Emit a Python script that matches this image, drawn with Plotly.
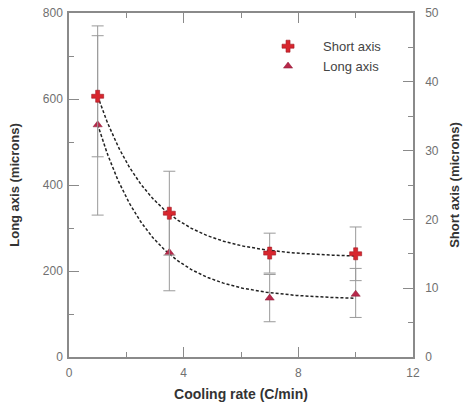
import numpy as np
import plotly.graph_objects as go

# ---- data ----
cooling_rate = [1, 3.5, 7, 10]
short_axis = [37.9, 20.9, 15.1, 15.0]          # microns, right axis
short_err = [8.8, 6.1, 2.9, 3.9]
long_axis = [540, 243, 137, 146]              # microns, left axis
long_err_plus = [230, 89, 55, 60]
long_err_minus = [210, 89, 55, 54]

x_ticks = [0, 4, 8, 12]
left_ticks = [0, 200, 400, 600, 800]
right_ticks = [0, 10, 20, 30, 40, 50]


# ---- fitted trend curves: y = a + b*exp(-c*x), least squares on the data ----
def exp_fit(x, y):
    x = np.asarray(x, float)
    y = np.asarray(y, float)
    best = None
    for c in np.linspace(0.05, 2.0, 400):
        A = np.column_stack([np.ones_like(x), np.exp(-c * x)])
        coef, *_ = np.linalg.lstsq(A, y, rcond=None)
        err = np.sum((A @ coef - y) ** 2)
        if best is None or err < best[0]:
            best = (err, c, coef)
    _, c, (a, b) = best
    return lambda t: a + b * np.exp(-c * t)


xf = np.linspace(min(cooling_rate), max(cooling_rate), 200)
short_fit = exp_fit(cooling_rate, short_axis)(xf)
long_fit = exp_fit(cooling_rate, long_axis)(xf)

FONT = "Liberation Sans, Arial, sans-serif"
GRID = "#8a8a8a"
TICKC = "#707070"

fig = go.Figure()

fig.add_trace(go.Scatter(x=xf, y=short_fit, mode="lines", yaxis="y2",
                         line=dict(color="#222", width=1.5, dash="3px,2px"),
                         showlegend=False, hoverinfo="skip"))
fig.add_trace(go.Scatter(x=xf, y=long_fit, mode="lines",
                         line=dict(color="#222", width=1.5, dash="3px,2px"),
                         showlegend=False, hoverinfo="skip"))

fig.add_trace(go.Scatter(
    x=cooling_rate, y=short_axis, mode="markers", name="Short axis", yaxis="y2",
    marker=dict(symbol="cross", size=10, color="#d8262e",
                line=dict(color="#a01822", width=0.6)),
    error_y=dict(type="data", array=short_err, color="#9a9a9a", thickness=1, width=6)))
fig.add_trace(go.Scatter(
    x=cooling_rate, y=long_axis, mode="markers", name="Long axis",
    marker=dict(symbol="triangle-up", size=8, color="#b8284a",
                line=dict(color="#8a1a34", width=0.5)),
    error_y=dict(type="data", symmetric=False, array=long_err_plus,
                 arrayminus=long_err_minus, color="#9a9a9a", thickness=1, width=6)))

axis_common = dict(showline=True, linecolor=GRID, linewidth=1.5, showgrid=False,
                   zeroline=False, ticks="inside", ticklen=10, tickwidth=1.2,
                   tickcolor=GRID,
                   tickfont=dict(family=FONT, size=12, color=TICKC))

fig.update_layout(
    width=473, height=409,
    margin=dict(l=69, r=60, t=13, b=52, autoexpand=False),
    paper_bgcolor="white", plot_bgcolor="white",
    font=dict(family=FONT),
    xaxis=dict(range=[0, 12], tickvals=x_ticks, mirror="ticks",
               minor=dict(dtick=2, ticks="inside", ticklen=5, tickcolor=GRID),
               title=dict(text="<b>Cooling rate (C/min)</b>",
                          font=dict(family=FONT, size=14, color="#333"), standoff=10),
               ticklabelstandoff=4,
               **axis_common),
    yaxis=dict(range=[0, 800], tickvals=left_ticks,
               minor=dict(dtick=100, ticks="inside", ticklen=5, tickcolor=GRID),
               title=dict(text="<b>Long axis (microns)</b>",
                          font=dict(family=FONT, size=13, color="#333"), standoff=20),
               ticklabelstandoff=2,
               **axis_common),
    yaxis2=dict(range=[0, 50], tickvals=right_ticks, overlaying="y", side="right",
                minor=dict(dtick=5, ticks="inside", ticklen=5, tickcolor=GRID),
                title=dict(text="<b>Short axis (microns)</b>",
                           font=dict(family=FONT, size=13, color="#333"), standoff=12),
                ticklabelstandoff=8,
                **axis_common),
    legend=dict(x=0.535, y=0.947, xanchor="left", yanchor="top",
                bgcolor="rgba(0,0,0,0)", tracegroupgap=0, itemwidth=60,
                font=dict(family=FONT, size=13, color="#444")),
)

# remove the default page margin so the figure sits at the window's corner
fig.write_html("out.html", config={"displayModeBar": False},
               post_script="document.body.style.margin='0';")
